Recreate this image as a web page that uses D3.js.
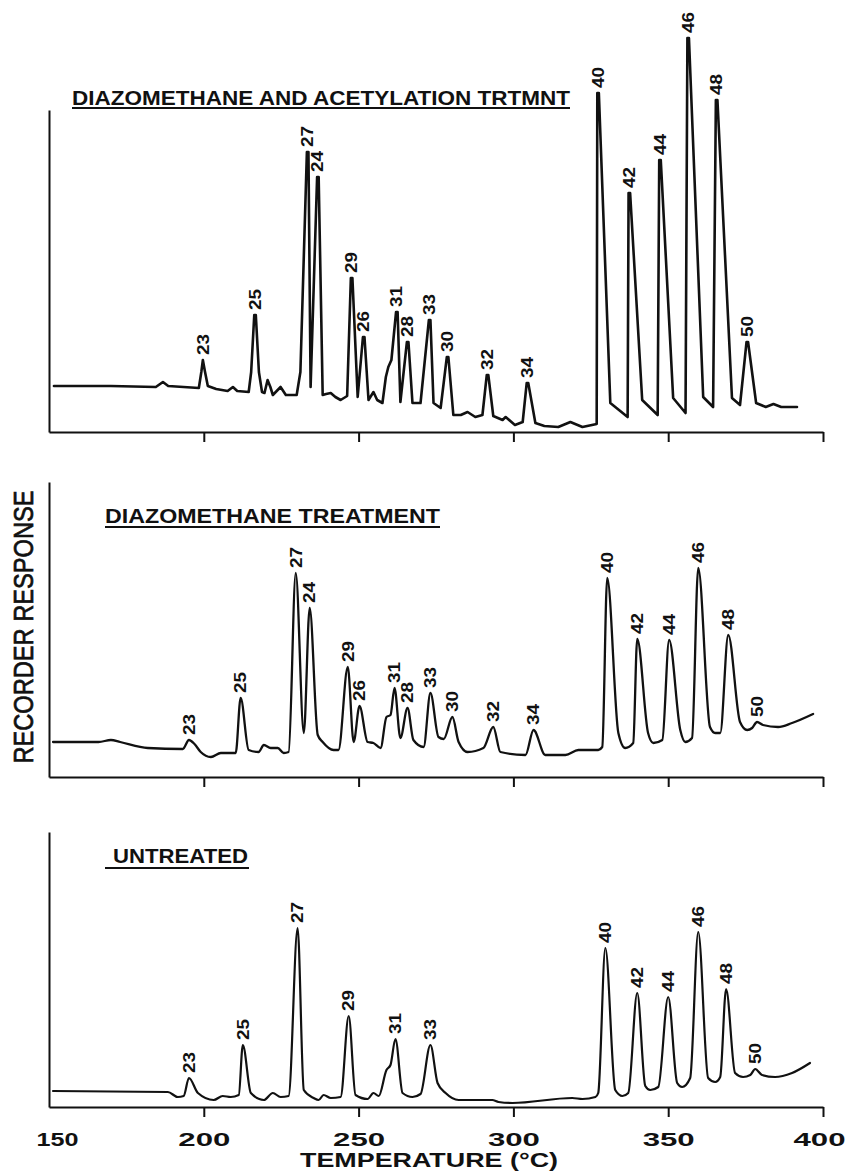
<!DOCTYPE html>
<html><head><meta charset="utf-8">
<script src="https://cdn.jsdelivr.net/npm/d3@7"></script>
<style>
body{margin:0;background:#fff;}
svg{display:block;}
text{font-family:"Liberation Sans",Arial,sans-serif;fill:#111;}
</style></head><body>
<svg id="c" width="850" height="1174"></svg>
<script>
// ---- data (temperature °C, recorder response in chart units) ----
const xTicks = [150, 200, 250, 300, 350, 400];
const titles = ["DIAZOMETHANE AND ACETYLATION TRTMNT", "DIAZOMETHANE TREATMENT", "UNTREATED"];
const xTitle = "TEMPERATURE (°C)";
const yTitle = "RECORDER RESPONSE";

const trace1 = [[151.6,46],[170,46],[184.5,45],[186.8,50],[188.5,46],[198.4,44],[199.2,60],[199.7,72],[200.4,60],[201.3,46],[204,43],[207.7,41],[209.4,45],[210.8,41],[214.5,40],[215.3,60],[216.3,117],[216.8,117],[217.8,60],[218.8,40],[219.6,39],[220.6,52],[221.5,45],[222.3,37],[224.8,45],[226.5,37],[230.0,37],[231.2,60],[233.3,280],[233.8,280],[234.5,45],[236.6,255],[237.1,255],[238.4,37],[239.5,38],[241.0,39],[242.5,35],[244.2,32],[246.3,36],[247.5,154],[248.0,154],[249.7,35],[251.4,95],[251.9,95],[253.2,32],[254.8,40],[256,32],[257.7,29],[258.8,55],[259.6,65],[260.6,72],[262.1,120],[262.6,120],[263.5,30],[265.6,90],[266.1,90],[267.4,29],[270.0,29],[272.7,112],[273.2,112],[274.2,29],[276.5,24],[278.5,75],[279.0,75],[280.6,17],[283,17],[285.2,20],[287.7,15],[290.0,17],[291.4,57],[291.9,57],[293.5,16],[296.5,12],[297.5,15],[300.5,7],[303,10],[304.3,49],[304.8,49],[307.1,9],[310,6],[314.5,5],[318.4,10],[322.3,5],[326.9,8],[327.1,339],[327.6,339],[331.3,29],[336.9,15],[337.2,239],[337.7,239],[341.6,32],[346.6,17],[347.1,272],[347.6,272],[351.6,34],[355.6,19],[356.2,394],[356.7,394],[361.3,35],[364.5,25],[365.4,332],[365.9,332],[370.6,34],[373.2,27],[375.3,90],[375.8,90],[378.4,29],[381.5,25],[384,28],[386.5,25],[391.6,25]];

const trace2 = [[151.3,35],[160,35],[166,35],[170,37],[173,35],[181.9,29],[193.2,28],[195.2,37],[197,33],[199.0,25],[202.3,20],[205.5,24],[210.3,24],[211.9,79],[214.5,27],[217.7,25],[219.4,32],[221.6,29],[223.9,29],[225.8,24],[227.4,25],[229.7,204],[232.3,44],[234.2,169],[236.8,42],[238.4,35],[241.9,27],[243.5,27],[246.5,110],[248.4,35],[250.3,71],[252.9,35],[254.8,34],[257.1,29],[259.0,60],[260.3,62],[261.6,89],[263.5,39],[265.8,69],[267.7,37],[271.0,30],[273.2,84],[275.8,40],[277.5,38],[280.3,60],[282.3,35],[285.2,25],[290.3,29],[293.5,50],[295.8,25],[303.9,22],[306.5,47],[310.3,22],[316.8,22],[321.0,27],[327.4,27],[328.7,30],[330.3,199],[333.9,44],[336.1,29],[338.7,34],[340.0,138],[343.5,44],[345.2,34],[348.1,37],[350.3,137],[353.9,47],[355.5,35],[357.7,39],[359.7,209],[363.5,50],[365.2,44],[366.8,44],[369.4,142],[373.2,55],[375.5,47],[377.1,49],[378.7,55],[380.6,52],[385.5,50],[390.0,54],[396.8,63]];

const trace3 = [[151.3,16],[188.4,15],[191.6,10],[193.5,11],[195.2,29],[198.1,14],[203.2,7],[206.1,11],[208.7,10],[211.3,12],[212.6,62],[215.2,14],[219.4,7],[222.3,14],[224.8,10],[227.4,11],[230.3,179],[232.3,17],[235.5,9],[237.1,7],[238.7,12],[241.0,9],[244.2,10],[246.8,91],[249.0,12],[252.9,8],[254.8,14],[256.5,11],[259.0,37],[260.3,42],[261.9,68],[264.2,14],[267.4,10],[270.0,13],[273.2,62],[275.5,24],[278.1,14],[282.3,7],[293.2,7],[295.2,5],[299.7,4],[319.0,9],[322.3,8],[326.5,10],[327.4,14],[329.7,159],[332.9,17],[335.2,11],[337.1,14],[340.0,114],[342.6,21],[344.2,17],[346.8,20],[350.0,110],[352.9,24],[354.5,20],[357.1,29],[359.7,175],[362.9,29],[365.2,25],[366.8,30],[368.7,118],[371.6,34],[374.2,30],[376.5,32],[378.1,38],[380.3,32],[384.5,30],[390.0,34],[395.8,44]];

const peaks1 = ["23","25","27","24","29","26","31","28","33","30","32","34","40","42","44","46","48","50"];
const peakT1 = [199.7,216.5,233.5,236.8,247.7,251.6,262.3,265.8,272.9,278.7,291.6,304.5,327.3,337.4,347.3,356.4,365.6,375.5];
const peaks2 = ["23","25","27","24","29","26","31","28","33","30","32","34","40","42","44","46","48","50"];
const peakT2 = [195.2,211.9,229.7,234.2,246.5,250.3,261.6,265.8,273.2,280.3,293.5,306.5,330.3,340.0,350.3,359.7,369.4,378.7];
const peaks3 = ["23","25","27","29","31","33","40","42","44","46","48","50"];
const peakT3 = [195.2,212.6,230.3,246.8,261.9,273.2,329.7,340.0,350.0,359.7,368.7,378.1];

// ---- layout ----
const svg = d3.select("#c");
const ink = "#111";
const x = d3.scaleLinear().domain([150, 400]).range([49, 823]);

const panels = [
  {trace: trace1, names: peaks1, temps: peakT1, title: titles[0], bottom: 432, top: 110,
   tx: 72, ty: 105, tlen: 498, ux: [72, 570], uy: 108, curve: d3.curveLinear, sw: 2.6},
  {trace: trace2, names: peaks2, temps: peakT2, title: titles[1], bottom: 777, top: 482,
   tx: 105, ty: 523, tlen: 335, ux: [105, 440], uy: 527, curve: d3.curveMonotoneX, sw: 2.3},
  {trace: trace3, names: peaks3, temps: peakT3, title: titles[2], bottom: 1107, top: 832,
   tx: 113, ty: 863, tlen: 135, ux: [105, 249], uy: 868, curve: d3.curveMonotoneX, sw: 2.2}
];

panels.forEach((p, i) => {
  const y = d3.scaleLinear().domain([0, p.bottom - p.top]).range([p.bottom, p.top]);
  const g = svg.append("g");

  // x axis
  const last = i === 2;
  const ax = d3.axisBottom(x)
    .tickValues(last ? xTicks : xTicks.slice(1))
    .tickSize(10).tickSizeOuter(0).tickPadding(16)
    .tickFormat(last ? d3.format("d") : () => "");
  const gx = g.append("g").attr("transform", `translate(0,${p.bottom})`).call(ax);
  gx.select(".domain").attr("stroke", ink).attr("stroke-width", 2);
  gx.selectAll(".tick line").attr("stroke", ink).attr("stroke-width", 2);
  gx.selectAll(".tick").filter(d => d === 150).select("line").remove();
  gx.selectAll(".tick text").attr("fill", ink).attr("font-size", 19).attr("font-weight", "bold")
    .attr("font-family", '"Liberation Sans",Arial,sans-serif')
    .attr("textLength", d => d === 150 ? 42 : 52).attr("lengthAdjust", "spacingAndGlyphs")
    .attr("dx", d => d === 150 ? 8 : (d === 400 ? -4 : 0));

  // y axis (line only)
  const ay = d3.axisLeft(y).tickValues([]).tickSizeOuter(0);
  const gy = g.append("g").attr("transform", `translate(${x(150)},0)`).call(ay);
  gy.select(".domain").attr("stroke", ink).attr("stroke-width", 2);

  // trace
  const line = d3.line().x(d => x(d[0])).y(d => y(d[1])).curve(p.curve);
  g.append("path").datum(p.trace).attr("d", line)
    .attr("fill", "none").attr("stroke", ink).attr("stroke-width", p.sw)
    .attr("stroke-linejoin", "round").attr("stroke-linecap", "round");

  // peak labels
  const lab = p.names.map((n, k) => {
    const t = p.temps[k];
    const h = d3.max(p.trace.filter(q => Math.abs(q[0] - t) <= 1.0), q => q[1]);
    return {n, t, h};
  });
  g.selectAll("text.pk").data(lab).join("text").attr("class", "pk")
    .attr("transform", d => `translate(${x(d.t)},${y(d.h) - 5}) rotate(-90)`)
    .attr("dy", "0.36em").attr("text-anchor", "start")
    .attr("font-size", 16).attr("font-weight", "bold")
    .attr("textLength", 21).attr("lengthAdjust", "spacingAndGlyphs")
    .text(d => d.n);

  // title with underline
  g.append("text").attr("x", p.tx).attr("y", p.ty)
    .attr("font-size", 21).attr("font-weight", "bold")
    .attr("textLength", p.tlen).attr("lengthAdjust", "spacingAndGlyphs")
    .text(p.title);
  g.append("line").attr("x1", p.ux[0]).attr("x2", p.ux[1]).attr("y1", p.uy).attr("y2", p.uy)
    .attr("stroke", ink).attr("stroke-width", 2);
});

// axis titles
svg.append("text").attr("x", 429).attr("y", 1167).attr("text-anchor", "middle")
  .attr("font-size", 20).attr("font-weight", "bold")
  .attr("textLength", 258).attr("lengthAdjust", "spacingAndGlyphs").text(xTitle);
svg.append("text").attr("transform", "translate(33,627) rotate(-90)").attr("text-anchor", "middle")
  .attr("font-size", 27).attr("stroke", ink).attr("stroke-width", 0.7)
  .attr("textLength", 273).attr("lengthAdjust", "spacingAndGlyphs").text(yTitle);
</script>
</body></html>
